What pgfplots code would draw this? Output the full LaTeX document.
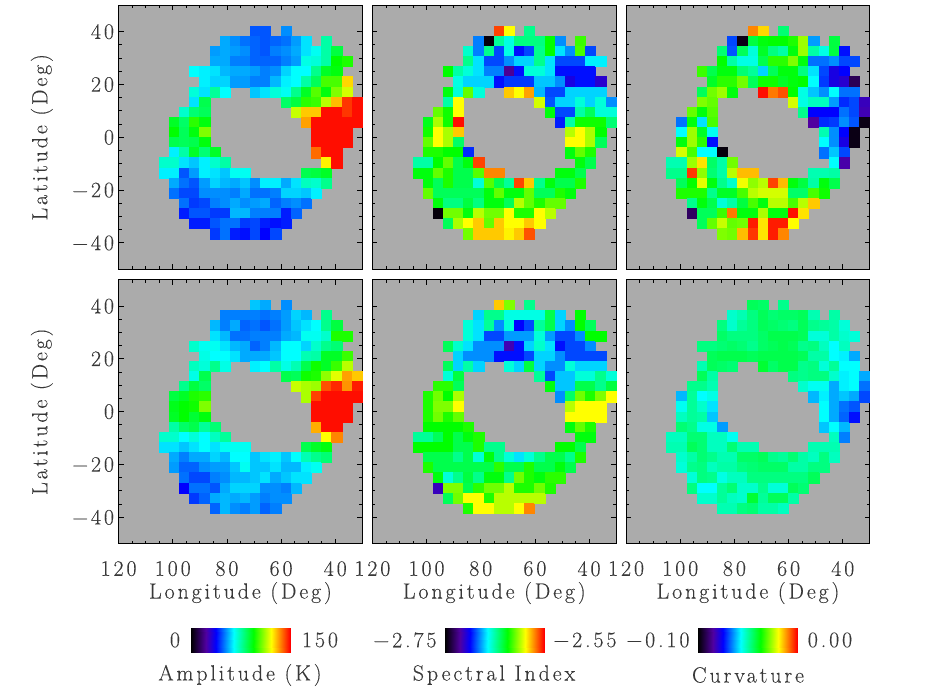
\documentclass[border=0pt]{standalone}
\usepackage{fontspec}
\setmainfont{Latin Modern Roman}[LetterSpace=13,FakeBold=0.2]
\usepackage{pgfplots}
\usepackage{pgfplotstable}
\pgfplotsset{compat=1.18}
\newcommand{\fs}{\fontsize{22}{26}\selectfont\color{black!78}}
% Cell values: percent of each panel's colour scale (0 = no data), columns = longitude cells 4..23, first column = row
\pgfplotstableread[header=false]{
0 0 0 0 0 0 0 0 0 0 31 31 0 35 0 0 0 0 0 0 0
1 0 0 0 0 0 0 37 35 33 32 31 32 33 36 41 0 50 0 0 0
2 0 0 0 0 0 36 37 36 35 32 31 34 35 37 41 44 50 58 0 0
3 0 0 0 0 0 37 37 34 34 32 32 32 34 36 45 46 50 63 65 0
4 0 0 0 43 42 41 38 37 37 36 34 35 40 43 43 52 60 62 0 0
5 0 0 0 0 42 40 40 36 36 34 34 38 42 43 50 56 68 68 84 0
6 0 0 0 46 41 51 43 0 0 39 41 46 44 52 60 69 62 72 78 0
7 0 0 0 41 57 0 0 0 0 0 0 0 55 58 66 67 76 86 96 99
8 0 0 47 54 56 0 0 0 0 0 0 0 0 77 85 85 99 99 96 99
9 0 60 55 66 62 0 0 0 0 0 0 0 0 0 88 99 99 99 99 99
10 0 63 56 62 72 0 0 0 0 0 0 0 0 0 0 99 99 99 99 0
11 0 57 56 57 62 0 0 0 0 0 0 0 0 0 0 99 99 99 99 0
12 0 42 50 60 54 60 0 0 0 0 0 0 0 0 0 92 99 99 0 0
13 47 47 41 39 42 47 50 0 0 0 0 0 0 0 0 0 82 99 0 0
14 42 42 31 36 42 41 39 44 44 0 0 0 0 0 57 58 60 0 0 0
15 0 37 33 31 36 40 38 37 39 35 42 42 37 41 48 47 52 0 0 0
16 0 33 30 30 35 35 35 34 37 33 33 34 40 40 39 42 0 0 0 0
17 0 0 33 29 30 34 35 37 35 36 37 32 34 35 33 0 0 0 0 0
18 0 0 27 31 31 29 29 38 38 34 34 34 27 32 0 0 0 0 0 0
19 0 0 0 27 27 31 33 33 29 30 27 26 27 0 0 0 0 0 0 0
20 0 0 0 0 0 29 33 27 26 30 25 30 0 0 0 0 0 0 0 0
}\tA
\pgfplotstableread[header=false]{
0 0 0 0 0 0 0 0 0 95 81 0 52 0 0 0 0 0 0 0 0
1 0 0 0 0 0 0 34 1 51 45 53 53 53 63 35 0 67 0 0 0
2 0 0 0 0 0 47 34 52 30 45 26 30 52 63 41 35 68 30 0 0
3 0 0 0 0 0 52 41 30 30 35 40 40 52 41 30 30 30 42 42 0
4 0 0 0 63 50 46 41 34 34 14 26 46 46 41 26 26 26 26 0 0
5 0 0 0 0 45 40 40 40 26 29 29 29 39 39 35 22 26 26 20 0
6 0 0 0 62 46 70 46 0 0 85 81 88 38 30 30 40 40 40 40 0
7 0 0 0 50 81 0 0 0 0 0 0 0 78 31 40 40 46 40 46 35
8 0 0 70 64 81 0 0 0 0 0 0 0 0 62 30 30 50 56 46 46
9 0 61 75 64 99 0 0 0 0 0 0 0 0 0 27 50 64 64 64 54
10 0 64 81 75 85 0 0 0 0 0 0 0 0 0 0 76 81 75 63 0
11 0 70 81 75 55 0 0 0 0 0 0 0 0 0 0 81 81 75 56 0
12 0 65 65 63 63 28 0 0 0 0 0 0 0 0 0 62 70 65 0 0
13 50 50 63 70 57 62 95 0 0 0 0 0 0 0 0 0 62 57 0 0
14 62 62 70 65 57 57 69 90 90 0 0 0 0 0 62 62 57 0 0 0
15 0 62 56 65 57 57 46 69 57 51 95 85 52 62 57 57 65 0 0 0
16 0 70 56 56 56 56 56 62 70 62 62 70 56 56 65 62 0 0 0 0
17 0 0 62 53 53 58 53 62 62 56 76 70 65 70 70 0 0 0 0 0
18 0 0 1 71 71 62 76 71 71 81 65 65 81 76 0 0 0 0 0 0
19 0 0 0 56 75 81 85 70 85 81 81 85 81 0 0 0 0 0 0 0
20 0 0 0 0 0 71 85 85 85 82 85 94 0 0 0 0 0 0 0 0
}\tB
\pgfplotstableread[header=false]{
0 0 0 0 0 0 0 0 0 90 84 0 54 0 0 0 0 0 0 0 0
1 0 0 0 0 0 0 30 2 58 62 63 63 65 74 36 0 58 0 0 0
2 0 0 0 0 0 54 31 56 46 60 53 50 62 74 50 45 58 26 0 0
3 0 0 0 0 0 63 50 45 45 57 66 66 72 62 33 33 35 30 30 0
4 0 0 0 67 57 62 62 54 51 40 56 62 62 53 41 30 22 25 0 0
5 0 0 0 0 60 66 66 71 56 64 64 60 62 63 43 29 22 20 8 0
6 0 0 0 56 71 74 62 0 0 99 91 94 63 45 39 35 43 33 33 0
7 0 0 0 72 70 0 0 0 0 0 0 0 78 45 48 48 36 28 30 18
8 0 0 70 62 69 0 0 0 0 0 0 0 0 52 25 25 25 33 30 17
9 0 33 62 41 68 0 0 0 0 0 0 0 0 0 15 28 29 35 31 2
10 0 43 74 60 44 0 0 0 0 0 0 0 0 0 0 49 35 25 2 0
11 0 62 74 66 26 0 0 0 0 0 0 0 0 0 0 43 35 22 2 0
12 0 78 68 43 43 1 0 0 0 0 0 0 0 0 0 33 39 30 0 0
13 49 49 74 83 55 50 71 0 0 0 0 0 0 0 0 0 43 16 0 0
14 52 52 96 73 54 50 76 86 86 0 0 0 0 0 49 49 50 0 0 0
15 0 56 63 79 62 52 47 80 73 76 95 86 62 58 50 62 57 0 0 0
16 0 65 65 65 52 60 60 68 76 78 78 78 55 55 68 64 0 0 0 0
17 0 0 52 62 57 46 50 58 68 62 76 76 68 76 85 0 0 0 0 0
18 0 0 9 56 56 67 91 62 62 75 62 62 99 83 0 0 0 0 0 0
19 0 0 0 56 70 77 70 71 98 83 98 98 81 0 0 0 0 0 0 0
20 0 0 0 0 0 72 71 86 96 83 98 90 0 0 0 0 0 0 0 0
}\tC
\pgfplotstableread[header=false]{
0 0 0 0 0 0 0 0 0 0 39 37 0 35 0 0 0 0 0 0 0
1 0 0 0 0 0 0 34 34 34 34 33 34 36 40 38 0 52 0 0 0
2 0 0 0 0 0 38 34 37 32 33 31 33 36 39 41 43 52 58 0 0
3 0 0 0 0 0 41 38 33 33 34 34 34 37 38 44 44 47 65 65 0
4 0 0 0 47 44 44 41 38 37 32 34 38 43 43 40 47 52 54 0 0
5 0 0 0 0 45 43 43 41 37 37 37 39 43 43 49 50 60 60 67 0
6 0 0 0 48 46 52 45 0 0 42 43 50 45 49 57 64 60 67 76 0
7 0 0 0 45 57 0 0 0 0 0 0 0 57 56 64 65 73 79 88 85
8 0 0 52 58 55 0 0 0 0 0 0 0 0 77 75 74 94 97 89 98
9 0 58 60 65 66 0 0 0 0 0 0 0 0 0 75 95 99 99 99 99
10 0 61 63 64 72 0 0 0 0 0 0 0 0 0 0 99 99 99 99 0
11 0 60 63 59 62 0 0 0 0 0 0 0 0 0 0 99 99 99 99 0
12 0 50 55 57 51 54 0 0 0 0 0 0 0 0 0 87 99 99 0 0
13 47 47 43 46 43 48 51 0 0 0 0 0 0 0 0 0 81 90 0 0
14 41 41 39 41 43 41 44 44 44 0 0 0 0 0 57 60 62 0 0 0
15 0 37 34 37 37 40 38 43 43 39 41 42 39 43 49 52 54 0 0 0
16 0 36 32 32 35 36 36 39 44 39 39 41 38 38 42 44 0 0 0 0
17 0 0 33 30 30 34 35 38 38 39 41 37 39 41 41 0 0 0 0 0
18 0 0 25 33 33 31 37 40 40 40 35 35 34 38 0 0 0 0 0 0
19 0 0 0 29 32 37 38 37 38 36 34 35 35 0 0 0 0 0 0 0
20 0 0 0 0 0 32 38 35 34 36 32 34 0 0 0 0 0 0 0 0
}\tD
\pgfplotstableread[header=false]{
0 0 0 0 0 0 0 0 0 85 72 0 52 0 0 0 0 0 0 0 0
1 0 0 0 0 0 0 40 52 52 45 45 45 45 57 40 0 63 0 0 0
2 0 0 0 0 0 46 41 51 35 46 25 30 51 57 40 35 63 56 0 0
3 0 0 0 0 0 46 41 30 30 36 36 36 46 36 30 30 35 63 63 0
4 0 0 0 56 47 41 35 35 35 17 26 40 47 41 26 30 30 35 0 0
5 0 0 0 0 40 35 35 35 26 26 26 30 40 40 35 30 30 30 30 0
6 0 0 0 56 40 50 40 0 0 46 40 58 40 35 35 46 40 40 40 0
7 0 0 0 46 58 0 0 0 0 0 0 0 51 30 39 39 46 46 52 46
8 0 0 66 66 56 0 0 0 0 0 0 0 0 62 39 39 57 57 52 58
9 0 65 71 63 75 0 0 0 0 0 0 0 0 0 35 55 71 65 72 81
10 0 65 72 72 81 0 0 0 0 0 0 0 0 0 0 76 81 81 81 0
11 0 65 71 65 70 0 0 0 0 0 0 0 0 0 0 81 81 81 81 0
12 0 63 63 63 63 65 0 0 0 0 0 0 0 0 0 62 70 65 0 0
13 51 51 56 63 57 62 65 0 0 0 0 0 0 0 0 0 62 62 0 0
14 63 63 63 63 57 57 65 52 52 0 0 0 0 0 63 63 57 0 0 0
15 0 57 57 57 52 57 46 62 52 46 41 46 52 57 57 52 65 0 0 0
16 0 65 57 57 57 57 57 57 66 57 57 65 57 57 62 57 0 0 0 0
17 0 0 62 46 52 58 52 62 62 52 71 65 62 66 66 0 0 0 0 0
18 0 0 18 72 72 57 66 71 71 76 65 65 71 65 0 0 0 0 0 0
19 0 0 0 56 71 81 81 65 76 76 76 76 76 0 0 0 0 0 0 0
20 0 0 0 0 0 65 81 81 76 76 81 90 0 0 0 0 0 0 0 0
}\tE
\pgfplotstableread[header=false]{
0 0 0 0 0 0 0 0 0 56 55 0 52 0 0 0 0 0 0 0 0
1 0 0 0 0 0 0 47 49 53 56 54 55 55 56 49 0 50 0 0 0
2 0 0 0 0 0 53 47 51 53 56 55 54 53 56 52 51 50 46 0 0
3 0 0 0 0 0 55 53 53 53 55 57 57 57 56 46 46 50 47 46 0
4 0 0 0 53 53 54 55 54 52 55 56 57 56 52 53 48 43 48 0 0
5 0 0 0 0 56 57 57 57 56 57 57 57 57 56 50 50 43 42 37 0
6 0 0 0 49 56 55 54 0 0 59 55 57 57 52 53 46 51 43 43 0
7 0 0 0 56 50 0 0 0 0 0 0 0 53 52 53 53 47 42 43 37
8 0 0 52 52 49 0 0 0 0 0 0 0 0 47 44 44 37 42 43 33
9 0 38 51 43 45 0 0 0 0 0 0 0 0 0 38 42 37 39 37 30
10 0 44 51 47 41 0 0 0 0 0 0 0 0 0 0 43 37 33 31 0
11 0 48 51 50 39 0 0 0 0 0 0 0 0 0 0 43 37 32 26 0
12 0 54 52 45 45 36 0 0 0 0 0 0 0 0 0 39 43 38 0 0
13 48 48 54 54 48 48 44 0 0 0 0 0 0 0 0 0 48 34 0 0
14 49 49 56 54 48 48 54 49 49 0 0 0 0 0 49 49 49 0 0 0
15 0 47 50 54 52 49 49 55 55 56 52 51 54 50 48 53 48 0 0 0
16 0 46 52 53 48 50 50 53 54 55 55 55 50 50 53 53 0 0 0 0
17 0 0 46 53 52 45 48 48 53 53 53 53 53 53 56 0 0 0 0 0
18 0 0 53 43 43 51 54 47 47 52 46 46 56 54 0 0 0 0 0 0
19 0 0 0 47 47 51 48 47 59 51 56 56 50 0 0 0 0 0 0 0
20 0 0 0 0 0 49 49 53 54 50 50 48 0 0 0 0 0 0 0 0
}\tF
\pgfplotsset{
  colormap={idl}{rgb255(0)=(0,0,0) rgb255(15)=(80,0,160) rgb255(25)=(0,0,255) rgb255(43)=(0,255,255) rgb255(63)=(0,255,0) rgb255(81)=(255,255,0) rgb255(100)=(255,0,0)},
  colormap name=idl,
  panel/.style={
    scale only axis, width=243.8pt, height=264pt, anchor=south west,
    xmin=30, xmax=120, ymin=-50, ymax=50, x dir=reverse,
    xtick={120,100,80,60,40}, ytick={-40,-20,0,20,40},
    minor x tick num=3, minor y tick num=3,
    tick align=inside, major tick length=5pt, minor tick length=3pt,
    tick style={black,line width=0.8pt}, axis line style={black,line width=1.2pt},
    axis on top, xticklabels={}, yticklabels={},
    axis background/.style={fill={rgb,255:red,171;green,171;blue,171}},
  },
  xl/.style={xticklabels={120,100,80,60,40}, xlabel={Longitude (Deg)},
    xticklabel style={font=\fs,yshift=-14pt},
    x label style={font=\fs,at={(axis description cs:0.5,-0.187)},anchor=center}},
  yl/.style={yticklabels={−40,−20,0,20,40}, ylabel={Latitude (Deg)},
    yticklabel style={font=\fs,xshift=-1pt},
    y label style={font=\fs,at={(axis description cs:-0.315,0.5)},anchor=center}},
  cbar/.style={scale only axis, width=99pt, height=24.3pt, anchor=south west, hide axis,
    xmin=0, xmax=1, ymin=0, ymax=1},
}
\newcommand{\panel}[6]{%
\begin{axis}[panel, at={(#5pt,#6pt)}, #4, point meta min=#2, point meta max=#3]
\pgfplotsinvokeforeach{1,...,20}{
  \addplot[scatter, only marks, mark=square*, mark size=5.08pt, line width=0pt,
    scatter/use mapped color={draw=mapped color,fill=mapped color}, point meta=explicit]
    table[x expr={120-3.75*(##1+3.5)},
          y expr={\thisrowno{##1}<1 ? nan : 40.15-3.84*\thisrowno{0}},
          meta expr={#2+(#3-#2)*\thisrowno{##1}/100}] {#1};
}
\end{axis}}
\newcommand{\cb}[1]{%
\begin{axis}[cbar, at={(#1pt,39.7pt)}, point meta min=0, point meta max=1]
\addplot[surf, shader=interp, point meta=x, mesh/rows=2] coordinates {(0,0) (1,0) (0,1) (1,1)};
\end{axis}}
\begin{document}
\begin{tikzpicture}[x=1pt,y=1pt]
\path[use as bounding box] (0,0) rectangle (939,692);
\panel{\tA}{0}{150}{yl}{118.6}{422.7}
\panel{\tB}{-2.75}{-2.55}{}{372.4}{422.7}
\panel{\tC}{-0.10}{0.00}{}{626.1}{422.7}
\panel{\tD}{0}{150}{xl,yl}{118.6}{148.3}
\panel{\tE}{-2.75}{-2.55}{xl}{372.4}{148.3}
\panel{\tF}{-0.10}{0.00}{xl}{626.1}{148.3}
\cb{191}
\cb{445}
\cb{698.3}
\node[font=\fs] at (175,52) {0};
\node[font=\fs] at (320,52) {150};
\node[font=\fs] at (405,52) {−2.75};
\node[font=\fs] at (585,52) {−2.55};
\node[font=\fs] at (658,52) {−0.10};
\node[font=\fs] at (830,52) {0.00};
\node[font=\fs] at (240,17) {Amplitude (K)};
\node[font=\fs] at (494,17) {Spectral Index};
\node[font=\fs] at (748,17) {Curvature};
\end{tikzpicture}
\end{document}
